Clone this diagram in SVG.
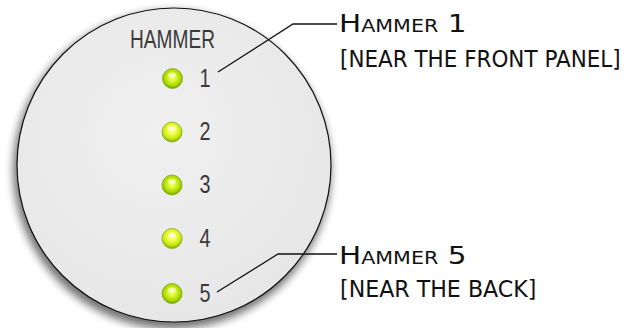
<svg xmlns="http://www.w3.org/2000/svg" width="630" height="328" viewBox="0 0 630 328">
  <defs>
    <filter id="softShadow" x="-20%" y="-20%" width="140%" height="140%">
      <feGaussianBlur stdDeviation="4"/>
    </filter>
    <radialGradient id="panelFill" cx="45%" cy="40%" r="65%">
      <stop offset="0" stop-color="#f0f0f0"/>
      <stop offset="1" stop-color="#e6e6e6"/>
    </radialGradient>
    <radialGradient id="ledGreen" cx="50%" cy="45%" r="55%">
      <stop offset="0" stop-color="#f6ff8c"/>
      <stop offset="0.35" stop-color="#dcf530"/>
      <stop offset="0.75" stop-color="#a6d800"/>
      <stop offset="1" stop-color="#6e9c08"/>
    </radialGradient>
    <radialGradient id="ledYellow" cx="50%" cy="40%" r="55%">
      <stop offset="0" stop-color="#fbffb0"/>
      <stop offset="0.4" stop-color="#f0fc48"/>
      <stop offset="0.8" stop-color="#c8e810"/>
      <stop offset="1" stop-color="#8eb410"/>
    </radialGradient>
  </defs>
  <style>
    .panel-text { font-family: "Liberation Sans", Arial, sans-serif; fill: #3a3a3a; }
    .callout { font-family: "DejaVu Sans", Verdana, sans-serif; fill: #111; }
    .leader { fill: none; stroke: #111; stroke-width: 1.3; }
    .led-ring { stroke: #86ad10; stroke-width: 0.8; }
    .led-glint { fill: #ffffff; opacity: 0.55; }
  </style>

  <!-- round front plate -->
  <g id="panel">
    <circle cx="172" cy="170" r="159" fill="#000" opacity="0.55" filter="url(#softShadow)"/>
    <circle cx="174" cy="165" r="157" fill="url(#panelFill)" stroke="#111" stroke-width="1.2"/>
  </g>

  <g id="panel-title">
    <text class="panel-text" x="130" y="47.5" font-size="26" textLength="85" lengthAdjust="spacingAndGlyphs">HAMMER</text>
  </g>

  <!-- indicator lamps with their numbers -->
  <g id="led1">
    <circle class="led-ring" cx="172.5" cy="78.5" r="10" fill="url(#ledGreen)"/>
    <ellipse class="led-glint" cx="172" cy="75" rx="4" ry="2.5"/>
    <text class="panel-text" x="199.5" y="87" font-size="26" textLength="11" lengthAdjust="spacingAndGlyphs">1</text>
  </g>
  <g id="led2">
    <circle class="led-ring" cx="172" cy="132" r="10" fill="url(#ledYellow)"/>
    <ellipse class="led-glint" cx="172" cy="128.5" rx="4" ry="2.5"/>
    <text class="panel-text" x="199.5" y="140" font-size="26" textLength="11" lengthAdjust="spacingAndGlyphs">2</text>
  </g>
  <g id="led3">
    <circle class="led-ring" cx="172" cy="185" r="10" fill="url(#ledGreen)"/>
    <ellipse class="led-glint" cx="172" cy="181.5" rx="4" ry="2.5"/>
    <text class="panel-text" x="199.5" y="193" font-size="26" textLength="11" lengthAdjust="spacingAndGlyphs">3</text>
  </g>
  <g id="led4">
    <circle class="led-ring" cx="172" cy="238.5" r="10" fill="url(#ledYellow)"/>
    <ellipse class="led-glint" cx="172" cy="235" rx="4" ry="2.5"/>
    <text class="panel-text" x="199.5" y="247" font-size="26" textLength="11" lengthAdjust="spacingAndGlyphs">4</text>
  </g>
  <g id="led5">
    <circle class="led-ring" cx="172" cy="293.5" r="10" fill="url(#ledGreen)"/>
    <ellipse class="led-glint" cx="172" cy="290" rx="4" ry="2.5"/>
    <text class="panel-text" x="199.5" y="302" font-size="26" textLength="11" lengthAdjust="spacingAndGlyphs">5</text>
  </g>

  <!-- leader lines -->
  <g id="connectors">
    <polyline class="leader" points="218,72 293,24 337,24"/>
    <polyline class="leader" points="217,292 278,254 337,254"/>
  </g>

  <!-- callout labels -->
  <g id="callout-hammer1">
    <text class="callout" transform="translate(339,31.5) scale(1.18,1)"><tspan font-size="25">H</tspan><tspan font-size="17.5">AMMER</tspan><tspan font-size="25"> 1</tspan></text>
    <text class="callout" transform="translate(340,67) scale(1,1.07)" font-size="21.5">[NEAR THE FRONT PANEL]</text>
  </g>
  <g id="callout-hammer5">
    <text class="callout" transform="translate(339,263.5) scale(1.18,1)"><tspan font-size="25">H</tspan><tspan font-size="17.5">AMMER</tspan><tspan font-size="25"> 5</tspan></text>
    <text class="callout" transform="translate(340,297) scale(1.03,1.07)" font-size="21.5">[NEAR THE BACK]</text>
  </g>
</svg>
